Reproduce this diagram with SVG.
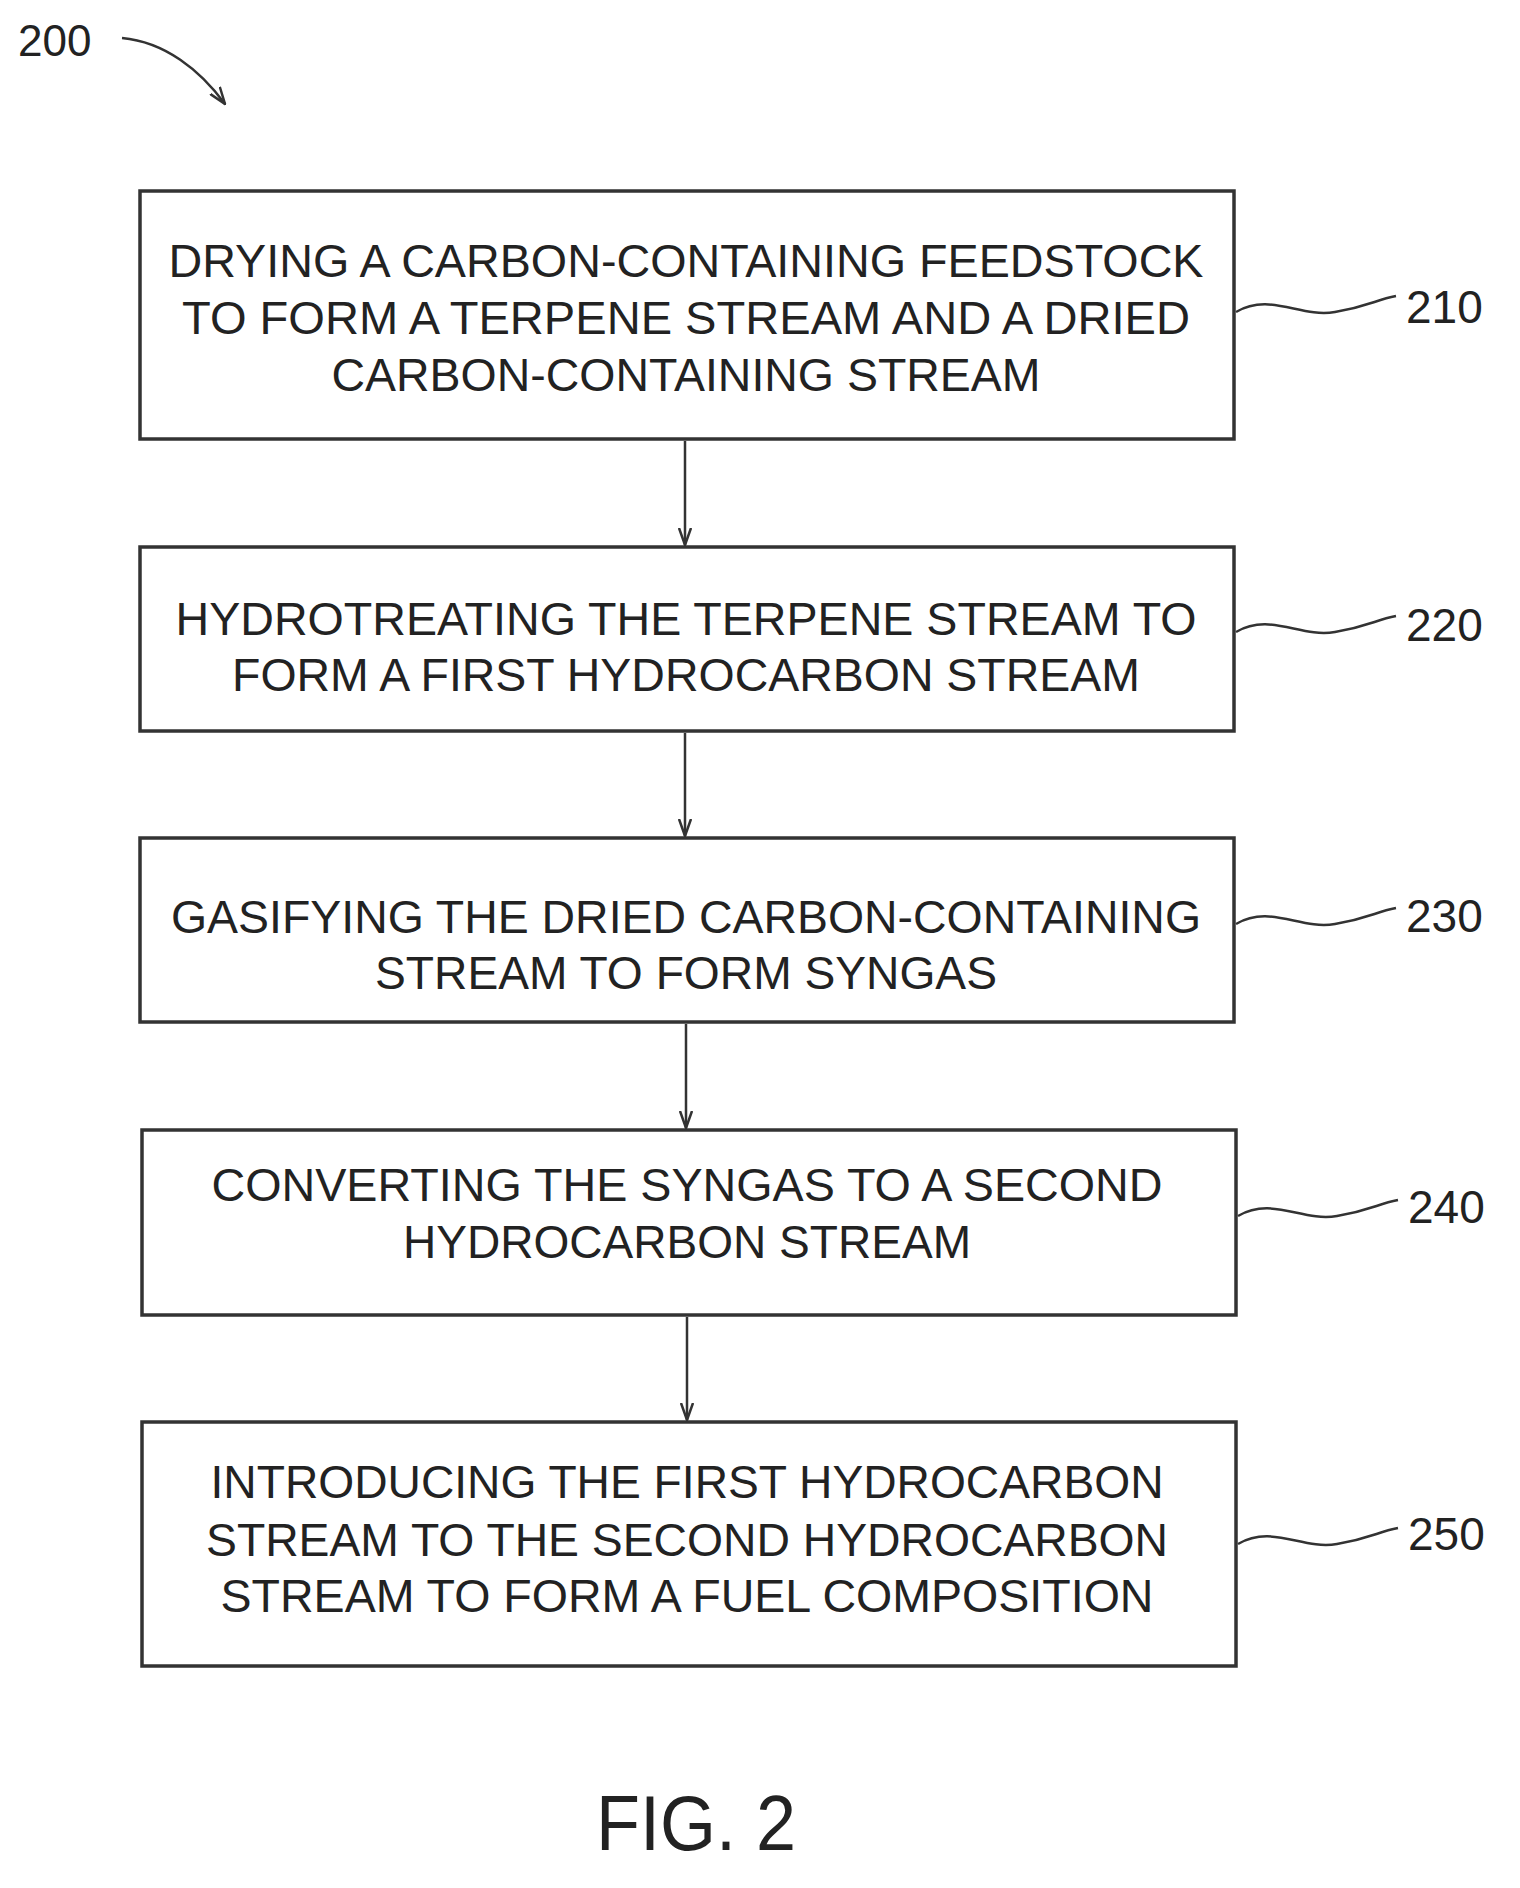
<svg xmlns="http://www.w3.org/2000/svg" width="1520" height="1888" viewBox="0 0 1520 1888">
<style>
.box{fill:#fff;stroke:#333;stroke-width:3.5}
.t{font-family:"Liberation Sans",Arial,sans-serif;font-size:46px;fill:#222;text-anchor:middle}
.lbl{font-family:"Liberation Sans",Arial,sans-serif;font-size:46px;fill:#222}
.c{fill:none;stroke:#333;stroke-width:2.5}
</style>
<defs>
<marker id="ah" markerWidth="18" markerHeight="14" refX="17" refY="7" orient="auto" markerUnits="userSpaceOnUse" viewBox="0 0 18 14">
<path d="M0,1 L17,7 L0,13" fill="none" stroke="#333" stroke-width="2.5"/>
</marker>
</defs>
<rect width="1520" height="1888" fill="#fff"/>
<text class="lbl" x="18" y="56" style="font-size:44px">200</text>
<g id="connectors">
<path class="c" d="M122,38 C165,42 200,70 225,104" marker-end="url(#ah)"/>
<line class="c" x1="685" y1="441" x2="685" y2="545" marker-end="url(#ah)"/>
<line class="c" x1="685" y1="733" x2="685" y2="836" marker-end="url(#ah)"/>
<line class="c" x1="686" y1="1024" x2="686" y2="1128" marker-end="url(#ah)"/>
<line class="c" x1="687" y1="1317" x2="687" y2="1420" marker-end="url(#ah)"/>
<path class="c" d="M1236,312 C1270,292 1300,318 1335,312 S1375,300 1396,296"/>
<path class="c" d="M1236,632 C1270,612 1300,638 1335,632 S1375,620 1396,616"/>
<path class="c" d="M1236,924 C1270,904 1300,930 1335,924 S1375,912 1396,908"/>
<path class="c" d="M1238,1216 C1272,1196 1302,1222 1337,1216 S1377,1204 1398,1200"/>
<path class="c" d="M1238,1544 C1272,1524 1302,1550 1337,1544 S1377,1532 1398,1528"/>
</g>
<g id="n210">
<rect class="box" x="140" y="191" width="1094" height="248"/>
<text class="t" x="686" y="277" textLength="1035" lengthAdjust="spacingAndGlyphs">DRYING A CARBON-CONTAINING FEEDSTOCK</text>
<text class="t" x="686" y="334" textLength="1008" lengthAdjust="spacingAndGlyphs">TO FORM A TERPENE STREAM AND A DRIED</text>
<text class="t" x="686" y="391" textLength="709" lengthAdjust="spacingAndGlyphs">CARBON-CONTAINING STREAM</text>
<text class="lbl" x="1406" y="323">210</text>
</g>
<g id="n220">
<rect class="box" x="140" y="547" width="1094" height="184"/>
<text class="t" x="686" y="635" textLength="1021" lengthAdjust="spacingAndGlyphs">HYDROTREATING THE TERPENE STREAM TO</text>
<text class="t" x="686" y="691" textLength="908" lengthAdjust="spacingAndGlyphs">FORM A FIRST HYDROCARBON STREAM</text>
<text class="lbl" x="1406" y="641">220</text>
</g>
<g id="n230">
<rect class="box" x="140" y="838" width="1094" height="184"/>
<text class="t" x="686" y="933" textLength="1030" lengthAdjust="spacingAndGlyphs">GASIFYING THE DRIED CARBON-CONTAINING</text>
<text class="t" x="686" y="989" textLength="622" lengthAdjust="spacingAndGlyphs">STREAM TO FORM SYNGAS</text>
<text class="lbl" x="1406" y="932">230</text>
</g>
<g id="n240">
<rect class="box" x="142" y="1130" width="1094" height="185"/>
<text class="t" x="687" y="1201" textLength="951" lengthAdjust="spacingAndGlyphs">CONVERTING THE SYNGAS TO A SECOND</text>
<text class="t" x="687" y="1258" textLength="568" lengthAdjust="spacingAndGlyphs">HYDROCARBON STREAM</text>
<text class="lbl" x="1408" y="1223">240</text>
</g>
<g id="n250">
<rect class="box" x="142" y="1422" width="1094" height="244"/>
<text class="t" x="687" y="1498" textLength="953" lengthAdjust="spacingAndGlyphs">INTRODUCING THE FIRST HYDROCARBON</text>
<text class="t" x="687" y="1556" textLength="962" lengthAdjust="spacingAndGlyphs">STREAM TO THE SECOND HYDROCARBON</text>
<text class="t" x="687" y="1612" textLength="933" lengthAdjust="spacingAndGlyphs">STREAM TO FORM A FUEL COMPOSITION</text>
<text class="lbl" x="1408" y="1550">250</text>
</g>
<text class="lbl" x="596" y="1850" style="font-size:78px" textLength="200" lengthAdjust="spacingAndGlyphs">FIG. 2</text>
</svg>
